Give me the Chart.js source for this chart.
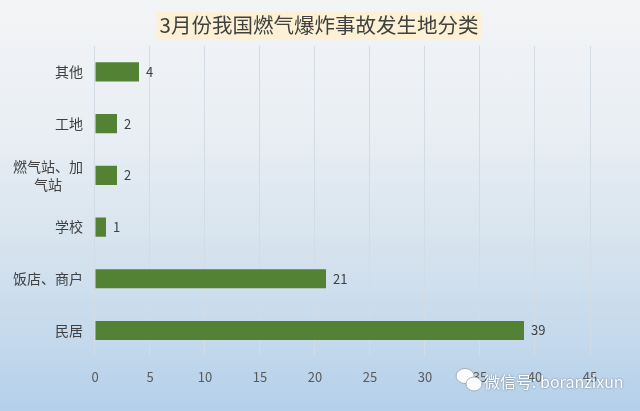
<!DOCTYPE html>
<html>
<head>
<meta charset="utf-8">
<script src="https://cdn.jsdelivr.net/npm/chart.js@4/dist/chart.umd.min.js"></script>
<style>
html,body{margin:0;padding:0;}
body{width:640px;height:411px;overflow:hidden;
background:linear-gradient(to bottom,#f3f4f6 0%,#eaeff4 30%,#d6e3ee 60%,#c2d8ec 85%,#b4d0ea 100%);}
#wrap{position:relative;width:640px;height:411px;}
canvas{display:block;}
</style>
</head>
<body>
<div id="wrap"><canvas id="c" width="640" height="411"></canvas></div>
<script>
const titleText = '3月份我国燃气爆炸事故发生地分类';
const categories = ['其他', '工地', ['燃气站、加', '气站\u3000\u2002'], '学校', '饭店、商户', '民居'];
const values = [4, 2, 2, 1, 21, 39];
const xMin = 0, xMax = 45, xStep = 5;
const watermark = '微信号: boranzixun';

const FONT = '"Noto Sans CJK SC", "Noto Sans", sans-serif';

const titlePlugin = {
  id: 'customTitle',
  beforeDraw(chart) {
    const ctx = chart.ctx;
    ctx.save();
    ctx.font = '20.5px ' + FONT;
    const w = ctx.measureText(titleText).width;
    const cx = 319;
    ctx.fillStyle = '#fcf1d4';
    ctx.fillRect(cx - w / 2 - 3, 12, w + 6, 27);
    ctx.fillStyle = '#404040';
    ctx.textAlign = 'center';
    ctx.textBaseline = 'middle';
    ctx.fillText(titleText, cx, 25.5);
    ctx.restore();
  }
};

const labelPlugin = {
  id: 'barLabels',
  afterDatasetsDraw(chart) {
    const ctx = chart.ctx;
    const meta = chart.getDatasetMeta(0);
    ctx.save();
    ctx.font = '13px ' + FONT;
    ctx.fillStyle = '#404040';
    ctx.textAlign = 'left';
    ctx.textBaseline = 'middle';
    meta.data.forEach((bar, i) => {
      ctx.fillText(String(values[i]), bar.x + 7, bar.y);
    });
    ctx.restore();
  }
};

const watermarkPlugin = {
  id: 'watermark',
  afterDraw(chart) {
    const ctx = chart.ctx;
    ctx.save();
    ctx.fillStyle = 'rgba(255,255,255,0.95)';
    ctx.strokeStyle = 'rgba(150,160,170,0.8)';
    ctx.lineWidth = 1;
    ctx.beginPath(); ctx.ellipse(465, 376, 9, 7.5, 0, 0, Math.PI * 2); ctx.fill(); ctx.stroke();
    ctx.beginPath(); ctx.ellipse(474, 384, 8, 7, 0, 0, Math.PI * 2); ctx.fill(); ctx.stroke();
    ctx.font = '16px ' + FONT;
    ctx.textAlign = 'left';
    ctx.textBaseline = 'middle';
    ctx.shadowColor = 'rgba(90,100,110,0.9)';
    ctx.shadowBlur = 2;
    ctx.fillStyle = '#ffffff';
    ctx.fillText(watermark, 484, 382);
    ctx.restore();
  }
};

new Chart(document.getElementById('c'), {
  type: 'bar',
  data: {
    labels: categories,
    datasets: [{
      data: values,
      backgroundColor: '#548235',
      borderWidth: 0,
      categoryPercentage: 1,
      barPercentage: 0.37
    }]
  },
  options: {
    indexAxis: 'y',
    responsive: false,
    animation: false,
    devicePixelRatio: 1,
    layout: { padding: { left: 1, right: 50, top: 46, bottom: 13 } },
    plugins: {
      legend: { display: false },
      tooltip: { enabled: false },
      title: { display: false }
    },
    scales: {
      x: {
        min: xMin, max: xMax,
        ticks: { stepSize: xStep, color: '#595959', font: { family: FONT, size: 13 }, padding: 13 },
        grid: { color: '#d3dce5', drawTicks: false, lineWidth: 1 },
        border: { display: false }
      },
      y: {
        ticks: { color: '#404040', font: { family: FONT, size: 14, lineHeight: 1.3 }, padding: 12 },
        grid: { display: false, drawTicks: false },
        border: { display: false }
      }
    }
  },
  plugins: [titlePlugin, labelPlugin, watermarkPlugin]
});
</script>
</body>
</html>
